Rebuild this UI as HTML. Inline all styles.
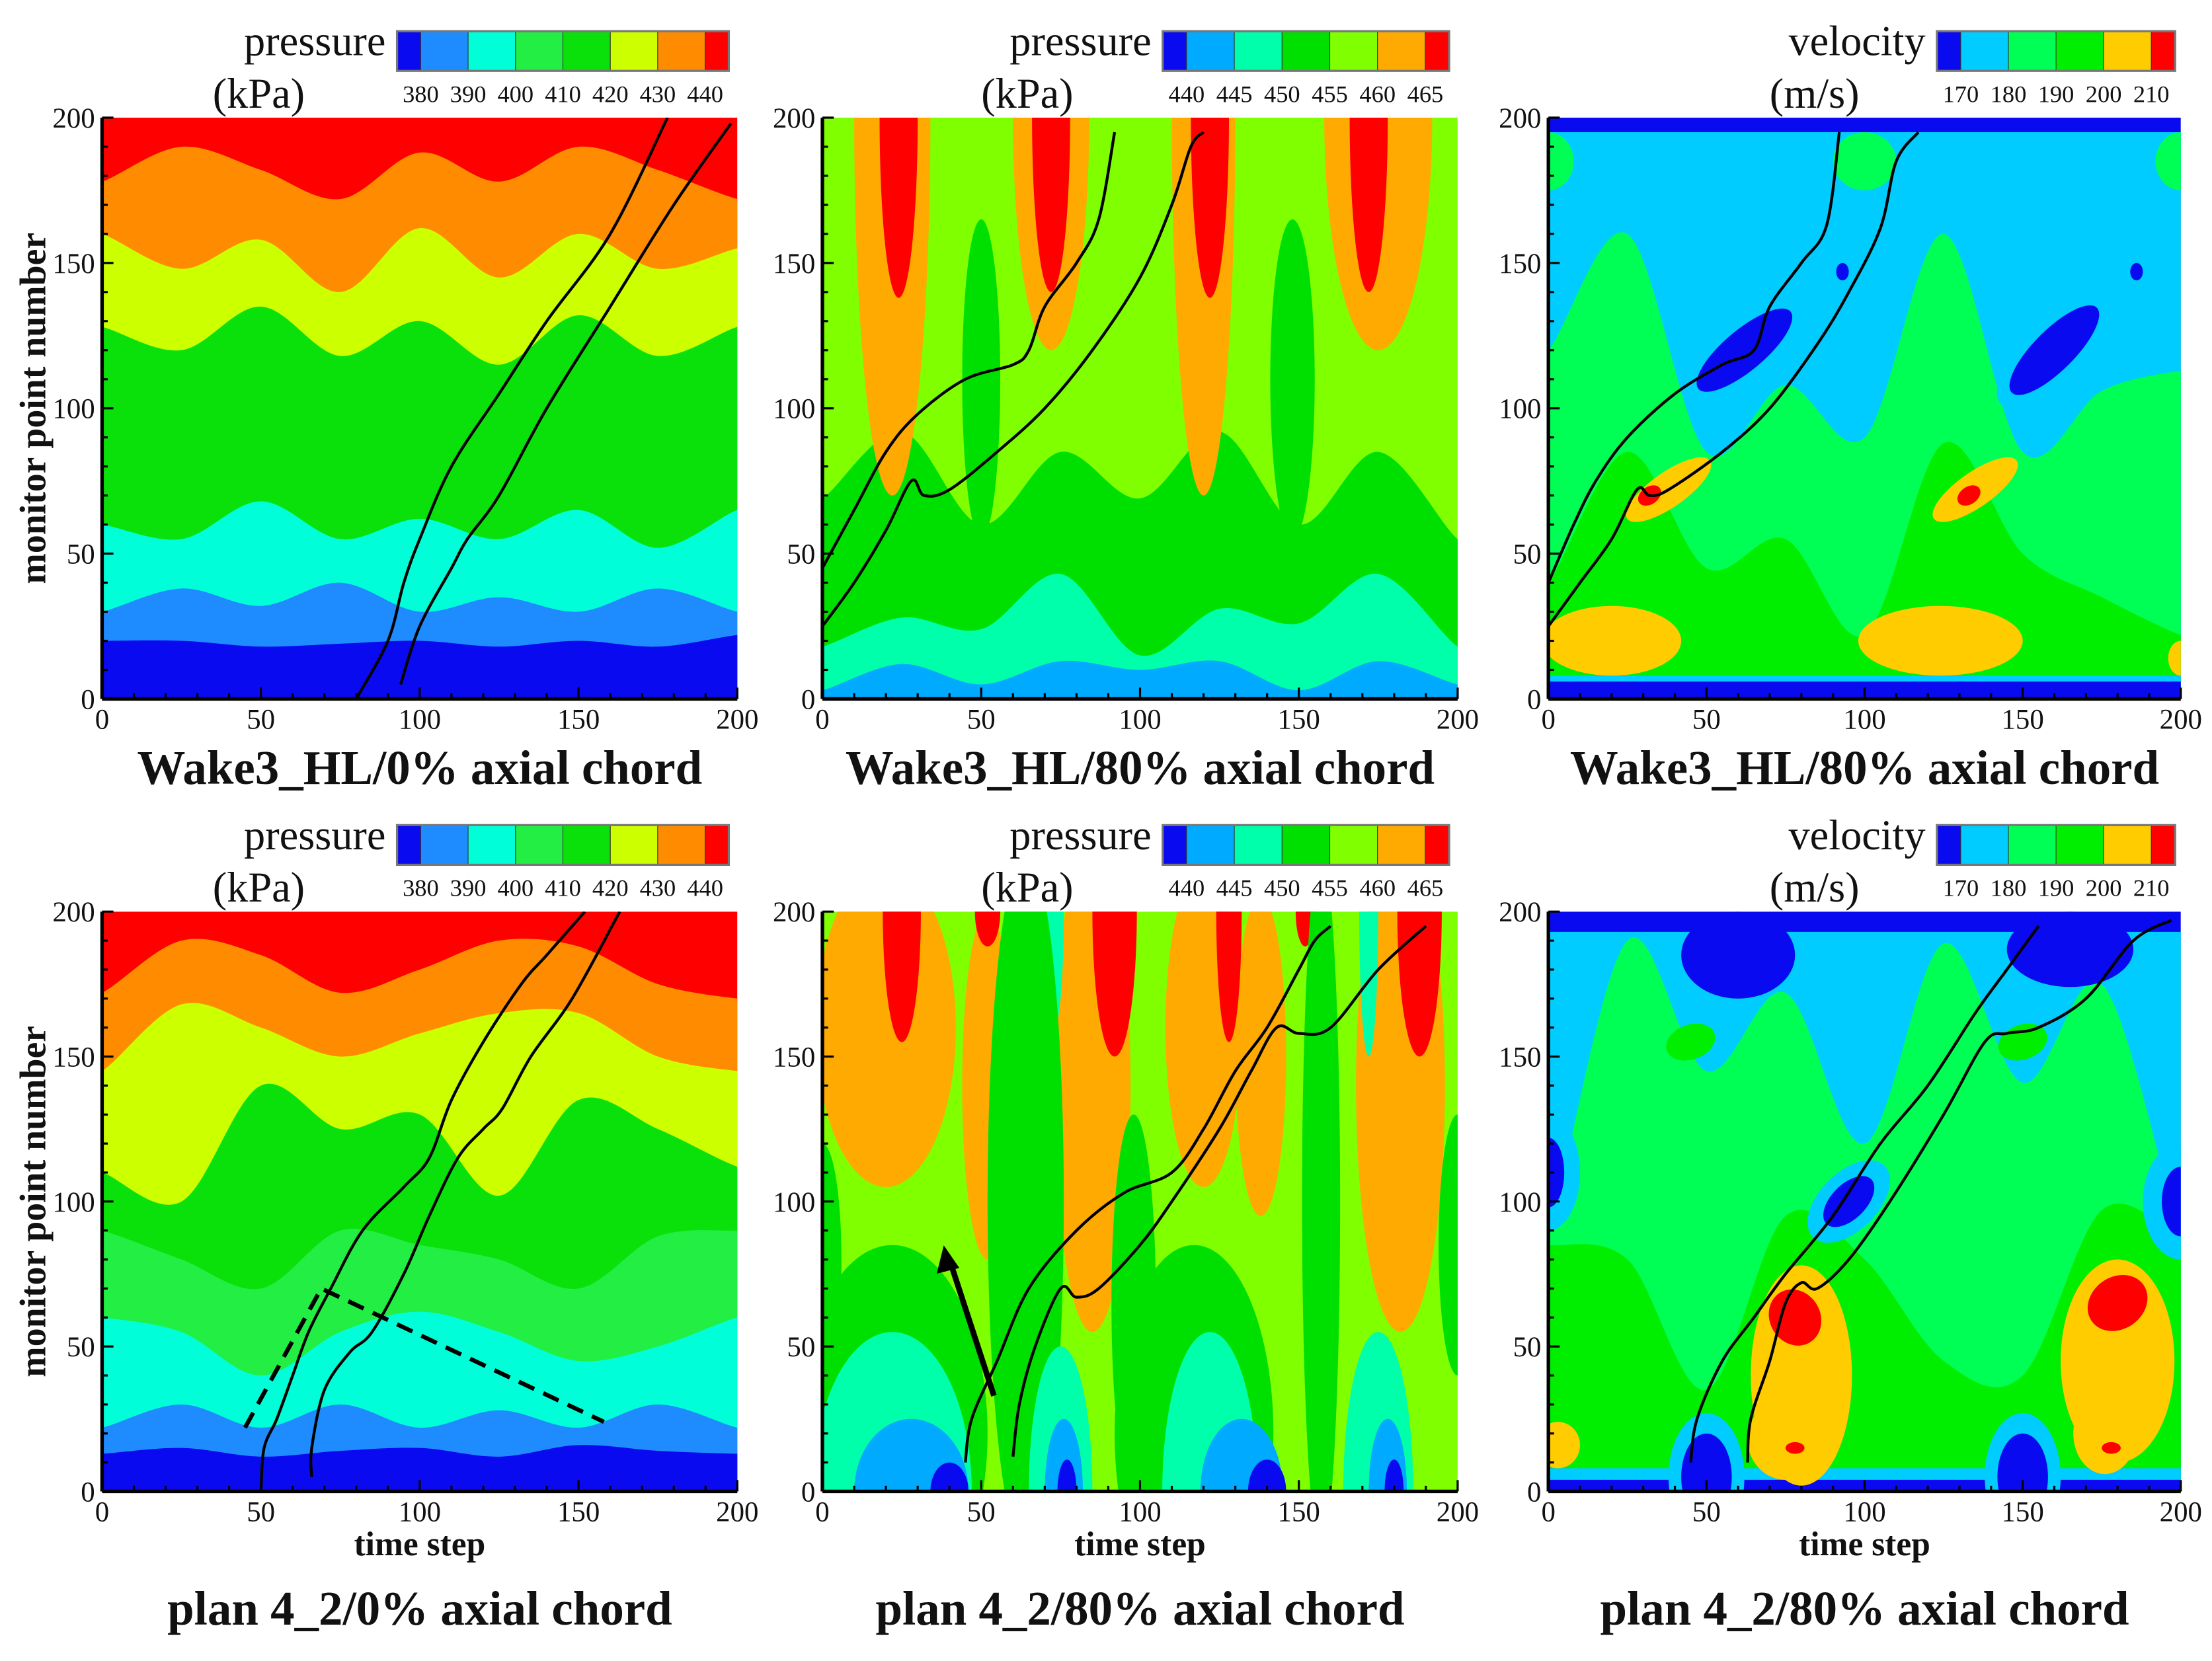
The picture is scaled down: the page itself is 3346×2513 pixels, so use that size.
<!DOCTYPE html>
<html><head><meta charset="utf-8"><style>
html,body{margin:0;padding:0;background:#fff;}
svg{display:block;}
text{font-family:"Liberation Serif",serif;fill:#111;}
</style></head><body>
<svg id="fig" width="3346" height="2513" viewBox="0 0 1560 1171.6" preserveAspectRatio="none" xmlns="http://www.w3.org/2000/svg"></svg>
<script>
// ---------- data ----------
const xSamples = [0,25,50,75,100,125,150,175,200];
const axisTicks = [0,50,100,150,200];
const pressureLowLabels = ["380","390","400","410","420","430","440"];
const pressureHighLabels = ["440","445","450","455","460","465"];
const velocityLabels = ["170","180","190","200","210"];
const pressurePalette = ["#0a0af0","#1e8cff","#00ffd8","#22ee44","#0ae00a","#ccff00","#ff8c00","#ff0000"];
const pressure2Palette = ["#0a0af0","#00aaff","#00ffaa","#00e000","#22dd00","#7fff00","#ffaa00","#ff0000"];
const pressure2BarPalette = ["#0a0af0","#00aaff","#00ffaa","#00e000","#7fff00","#ffaa00","#ff0000"];
const velocityPalette = ["#0a0af0","#00ccff","#00ff55","#00ee00","#ffcc00","#ff0000"];

// band boundaries (bottom->top), monitor units at xSamples
const p1Bounds = [
 [20,20,18,19,20,18,20,18,22],
 [30,38,32,40,30,35,30,38,30],
 [60,55,68,55,62,55,65,52,65],
 [128,120,135,118,130,115,132,118,128],
 [160,148,158,140,162,145,160,148,155],
 [178,190,182,172,188,178,190,182,172]];
const p1Colors = [0,1,2,4,5,6,7];
const p4Bounds = [
 [13,15,12,14,15,12,16,14,13],
 [22,30,22,30,22,28,22,30,22],
 [60,55,40,55,62,55,45,50,60],
 [90,80,70,90,85,80,70,88,90],
 [110,100,140,125,130,102,135,125,112],
 [145,168,160,150,158,165,165,150,145],
 [172,190,185,172,180,190,188,175,170]];
const p4Colors = [0,1,2,3,4,5,6,7];
const p2Bounds = [
 [3,12,5,13,10,13,3,13,5],
 [18,28,24,43,15,31,26,43,18],
 [69,92,60,85,69,92,60,85,55]];
const p2Colors = [1,2,3,5];
const p5Bounds = [];
const p5Colors = [5];
const p3Bounds = [
 [6,6,6,6,6,6,6,6,6],
 [8,8,8,8,8,8,8,8,8],
 [40,85,45,55,22,88,50,35,22],
 [120,160,85,108,90,160,85,106,113],
 [195,195,195,195,195,195,195,195,195]];
const p3Colors = [0,1,3,2,1,0];
const p6Bounds = [
 [4,4,4,4,4,4,4,4,4],
 [8,8,8,8,8,8,8,8,8],
 [85,80,35,95,80,45,40,97,88],
 [90,190,145,172,120,189,141,175,90],
 [193,193,193,193,193,193,193,193,193]];
const p6Colors = [0,1,3,2,1,0];

// blobs: [t, monitor, rt, rm, angle, colorIdx]
const p2Blobs = [
 [22,200,12,130,0,6],[72,200,12,80,0,6],[120,200,10,130,0,6],[175,200,17,80,0,6],
 [24,200,6,62,0,7],[72,200,6,60,0,7],[122,200,6,62,0,7],[172,200,6,60,0,7],
 [50,110,6,55,0,3],[148,110,7,55,0,3]];
const p5Blobs = [
 [20,160,22,55,0,6],[52,140,8,60,0,6],[85,140,12,85,0,6],[120,160,12,55,0,6],[138,150,8,55,0,6],[182,140,14,85,0,6],
 [25,200,6,45,0,7],[52,200,4,12,0,7],[92,200,7,50,0,7],[128,200,4,45,0,7],[152,200,3,12,0,7],[188,200,7,50,0,7],
 [73,200,3,40,0,2],[172,200,3,50,0,2],
 [64,100,12,120,0,3],[98,65,7,65,0,3],[157,100,6,120,0,3],[200,85,6,45,0,3],[0,80,6,40,0,3],[22,20,30,65,0,3],[117,20,25,65,0,3],
 [22,0,25,55,0,2],[75,0,10,50,0,2],[122,0,15,55,0,2],[175,0,11,55,0,2],
 [28,0,18,25,0,1],[76,0,6,25,0,1],[132,0,13,25,0,1],[178,0,6,25,0,1],
 [40,0,6,10,0,0],[77,0,3,11,0,0],[140,0,6,11,0,0],[180,0,3,11,0,0]];
const p3Blobs = [
 [0,185,8,10,0,2],[100,185,10,10,0,2],[200,185,8,10,0,2],
 [20,20,22,12,0,4],[124,20,26,12,0,4],[200,14,4,6,0,4],
 [38,72,16,6,-35,4],[32,70,4,3,-35,5],[135,72,16,6,-35,4],[133,70,4,3,-35,5],
 [62,120,24,10,-40,1],[160,120,24,10,-45,1],
 [62,120,19,7,-40,0],[160,120,19,7,-45,0],[93,147,2,3,0,0],[186,147,2,3,0,0]];
const p6Blobs = [
 [0,110,10,20,0,1],[95,100,16,10,-45,1],[200,100,12,20,0,1],
 [0,110,5,12,0,0],[95,100,10,6,-45,0],[200,100,6,12,0,0],
 [60,185,18,15,0,0],[165,187,20,13,0,0],
 [45,155,8,6,-20,3],[150,155,8,6,-20,3],
 [80,40,16,38,0,4],[75,18,12,14,0,4],[180,45,18,35,0,4],[176,20,10,14,0,4],[3,16,7,8,0,4],
 [78,60,8,10,-30,5],[180,65,10,9,-35,5],[78,15,3,2,0,5],[178,15,3,2,0,5],
 [50,5,12,22,0,1],[150,5,12,22,0,1],[50,5,8,15,0,0],[150,5,8,15,0,0]];

// wake curves [t, monitor]
const p1CurveA = [[80,0],[90,20],[95,40],[100,55],[110,80],[125,105],[140,130],[160,160],[178,200]];
const p1CurveB = [[94,5],[100,25],[110,45],[115,55],[125,70],[140,100],[160,135],[180,170],[198,198]];
const p2CurveA = [[0,45],[10,65],[20,85],[30,98],[45,110],[60,115],[65,120],[70,135],[80,150],[87,165],[92,195]];
const p2CurveB = [[0,25],[10,40],[20,58],[28,75],[32,70],[40,72],[55,85],[70,100],[85,120],[100,145],[110,170],[116,190],[120,195]];
const p3CurveA = [[0,40],[8,60],[15,75],[25,90],[40,105],[55,115],[65,120],[70,135],[80,150],[88,163],[92,195]];
const p3CurveB = [[0,25],[10,40],[20,55],[28,72],[32,70],[38,72],[55,85],[70,100],[85,122],[95,140],[105,162],[110,185],[117,195]];
const p4CurveA = [[50,0],[51,15],[55,25],[60,40],[65,55],[72,70],[82,90],[95,105],[103,115],[110,135],[120,155],[132,175],[140,185],[152,200]];
const p4CurveB = [[66,5],[66,15],[70,35],[78,48],[85,55],[95,75],[103,95],[112,115],[120,125],[126,132],[135,150],[148,170],[163,200]];
const p4Dashed = [[45,22],[69,70],[158,24]];
const p5CurveA = [[45,10],[47,25],[55,45],[65,70],[80,90],[95,103],[110,110],[120,125],[130,145],[140,160],[150,180],[155,190],[160,195]];
const p5CurveB = [[60,12],[62,30],[67,50],[75,70],[80,67],[87,70],[100,85],[110,100],[125,125],[135,145],[143,160],[150,158],[160,160],[175,180],[190,195]];
const p6CurveA = [[45,10],[47,25],[55,45],[65,60],[75,75],[90,95],[105,120],[120,140],[135,165],[145,180],[155,195]];
const p6CurveB = [[63,10],[64,25],[70,45],[75,65],[80,72],[85,70],[95,80],[108,100],[125,130],[138,155],[145,158],[155,160],[170,170],[185,190],[197,197]];

// ---------- rendering ----------
const NS="http://www.w3.org/2000/svg";
const svg=document.getElementById('fig');
function mk(tag,attrs,parent){const e=document.createElementNS(NS,tag);for(const k in attrs)e.setAttribute(k,attrs[k]);(parent||svg).appendChild(e);return e;}
function smooth(pts){
  let d=`M${pts[0][0]},${pts[0][1]}`;
  for(let i=0;i<pts.length-1;i++){
    const p0=pts[Math.max(0,i-1)],p1=pts[i],p2=pts[i+1],p3=pts[Math.min(pts.length-1,i+2)];
    const c1=[p1[0]+(p2[0]-p0[0])/6,p1[1]+(p2[1]-p0[1])/6];
    const c2=[p2[0]-(p3[0]-p1[0])/6,p2[1]-(p3[1]-p1[1])/6];
    d+=` C${c1[0]},${c1[1]} ${c2[0]},${c2[1]} ${p2[0]},${p2[1]}`;
  }
  return d;
}
function panel(cfg){
  const {x0,x1,y0,y1}=cfg;
  const sx=t=>x0+(x1-x0)*t/200, sy=m=>y1-(y1-y0)*m/200;
  const g=mk('g',{});
  
  
  const clipId='c'+cfg.name;
  const cp=mk('clipPath',{id:clipId},g);mk('rect',{x:x0,y:y0,width:x1-x0,height:y1-y0},cp);
  const area=mk('g',{'clip-path':`url(#${clipId})`},g);
  const pal=cfg.palette, cols=cfg.colors, n=cfg.bounds.length;
  const bg=mk('rect',{x:x0,y:y0,width:x1-x0,height:y1-y0,fill:pal[cols[n]]},area);
  
  
  for(let k=n-1;k>=0;k--){
    const pts=xSamples.map((t,i)=>[sx(t),sy(cfg.bounds[k][i])]);
    const ext=[[x0-20,pts[0][1]],...pts,[x1+20,pts[pts.length-1][1]]];
    const p=mk('path',{d:smooth(ext)+` L${x1+20},${y1+5} L${x0-20},${y1+5} Z`,fill:pal[cols[k]]},area);
    
    
  }
  (cfg.blobs||[]).forEach(b=>{
    const e=mk('ellipse',{cx:sx(b[0]),cy:sy(b[1]),rx:(x1-x0)*b[2]/200,ry:(y1-y0)*b[3]/200,fill:pal[b[5]],transform:`rotate(${b[4]} ${sx(b[0])} ${sy(b[1])})`},area);
    
    
  });
  cfg.curves.forEach(c=>{
    const p=mk('path',{d:smooth(c.map(q=>[sx(q[0]),sy(q[1])])),fill:'none',stroke:'#000','stroke-width':2},area);
    
    
  });
  if(cfg.dashed){
    const p=mk('polyline',{points:cfg.dashed.map(q=>sx(q[0])+','+sy(q[1])).join(' '),fill:'none',stroke:'#000','stroke-width':3,'stroke-dasharray':'12 7'},area);
    
    
  }
  if(cfg.arrow){
    const a=cfg.arrow;
    const ln=mk('line',{x1:sx(a[0]),y1:sy(a[1]),x2:sx(a[2]),y2:sy(a[3]),stroke:'#000','stroke-width':4},area);
    
    
    const hx=sx(a[2]),hy=sy(a[3]);
    mk('polygon',{points:`${hx-4},${hy-10} ${hx-9},${hy+10} ${hx+7},${hy+6}`,fill:'#000'},area);
  }
  // frame + ticks
  mk('line',{x1:x0,y1:y1,x2:x1,y2:y1,stroke:'#000','stroke-width':2.5},g);
  mk('line',{x1:x0,y1:y0,x2:x0,y2:y1,stroke:'#000','stroke-width':2.5},g);
  for(let v=0;v<=200;v+=10){
    const L=v%50===0?8:4;
    mk('line',{x1:sx(v),y1:y1,x2:sx(v),y2:y1-L,stroke:'#000','stroke-width':1.5},g);
    mk('line',{x1:x0,y1:sy(v),x2:x0+L,y2:sy(v),stroke:'#000','stroke-width':1.5},g);
  }
  axisTicks.forEach(v=>{
    const tx=mk('text',{x:sx(v),y:y1+21,'font-size':20,'text-anchor':'middle'},g);tx.textContent=v;
    
    const ty=mk('text',{x:x0-5,y:sy(v)+7,'font-size':20,'text-anchor':'end'},g);ty.textContent=v;
    
  });
  // colorbar
  const cb=cfg.cbar, lb=cfg.cbarLabels, segs=lb.length+1;
  const cg=mk('g',{},g);
  
  
  const w=(cb.x1-cb.x0)/(segs-1);
  const cpal=cfg.cbarPalette;
  for(let i=0;i<cpal.length;i++){
    let a,b;
    if(i===0){a=cb.x0;b=cb.x0+w/2;}else if(i===cpal.length-1){a=cb.x1-w/2;b=cb.x1;}else{a=cb.x0+w/2+(i-1)*w;b=a+w;}
    mk('rect',{x:a,y:cb.y,width:b-a,height:28,fill:cpal[i],stroke:'#333','stroke-width':0.5},cg);
  }
  mk('rect',{x:cb.x0,y:cb.y,width:cb.x1-cb.x0,height:28,fill:'none',stroke:'#777','stroke-width':1.5},cg);
  lb.forEach((s,i)=>{const t=mk('text',{x:cb.x0+w/2+i*w,y:cb.y+50,'font-size':17,'text-anchor':'middle'},cg);t.textContent=s;});
  const t1=mk('text',{x:cb.x0-8,y:cb.y+17,'font-size':30,'text-anchor':'end'},cg);t1.textContent=cfg.qty;
  
  const t2=mk('text',{x:cfg.unitX,y:cb.y+54,'font-size':30},cg);t2.textContent=cfg.unit;
  
  // title
  const tt=mk('text',{x:(x0+x1)/2,y:cfg.titleY,'font-size':34,'font-weight':'bold','text-anchor':'middle'},g);tt.textContent=cfg.title;
  
  if(cfg.xlabel){const xl=mk('text',{x:(x0+x1)/2,y:y1+45,'font-size':24,'font-weight':'bold','text-anchor':'middle'},g);xl.textContent='time step';
    }
  if(cfg.ylabel){const cy=(y0+y1)/2;const yl=mk('text',{x:24,y:cy,'font-size':26,'font-weight':'bold','text-anchor':'middle',transform:`rotate(-90 24 ${cy})`,dy:8},g);yl.textContent='monitor point number';
    }
}
const cols=[[72,520],[580,1028],[1092,1538]];
const rows=[[83,493,22,553],[643,1052,582,1146]];
const specs=[
 {name:'panel-wake3-0',c:0,r:0,bounds:p1Bounds,colors:p1Colors,palette:pressurePalette,curves:[p1CurveA,p1CurveB],qty:'pressure',unit:'(kPa)',lab:pressureLowLabels,cp:pressurePalette,title:'Wake3_HL/0% axial chord',ylabel:true},
 {name:'panel-wake3-80-p',c:1,r:0,bounds:p2Bounds,colors:p2Colors,palette:pressure2Palette,blobs:p2Blobs,curves:[p2CurveA,p2CurveB],qty:'pressure',unit:'(kPa)',lab:pressureHighLabels,cp:pressure2BarPalette,title:'Wake3_HL/80% axial chord'},
 {name:'panel-wake3-80-v',c:2,r:0,bounds:p3Bounds,colors:p3Colors,palette:velocityPalette,blobs:p3Blobs,curves:[p3CurveA,p3CurveB],qty:'velocity',unit:'(m/s)',lab:velocityLabels,cp:velocityPalette,title:'Wake3_HL/80% axial chord'},
 {name:'panel-plan42-0',c:0,r:1,bounds:p4Bounds,colors:p4Colors,palette:pressurePalette,curves:[p4CurveA,p4CurveB],dashed:p4Dashed,qty:'pressure',unit:'(kPa)',lab:pressureLowLabels,cp:pressurePalette,title:'plan 4_2/0% axial chord',ylabel:true,xlabel:true},
 {name:'panel-plan42-80-p',c:1,r:1,bounds:p5Bounds,colors:p5Colors,palette:pressure2Palette,blobs:p5Blobs,curves:[p5CurveA,p5CurveB],arrow:[54,33,40,80],qty:'pressure',unit:'(kPa)',lab:pressureHighLabels,cp:pressure2BarPalette,title:'plan 4_2/80% axial chord',xlabel:true},
 {name:'panel-plan42-80-v',c:2,r:1,bounds:p6Bounds,colors:p6Colors,palette:velocityPalette,blobs:p6Blobs,curves:[p6CurveA,p6CurveB],qty:'velocity',unit:'(m/s)',lab:velocityLabels,cp:velocityPalette,title:'plan 4_2/80% axial chord',xlabel:true}];
const cbX=[[280,514,150],[820,1022,692],[1366,1534,1248]];
specs.forEach(s=>{
  const [x0,x1]=cols[s.c],[y0,y1,cby,ty]=rows[s.r];
  panel({name:s.name,x0,x1,y0,y1,bounds:s.bounds,colors:s.colors,palette:s.palette,blobs:s.blobs,curves:s.curves,dashed:s.dashed,arrow:s.arrow,
    cbar:{x0:cbX[s.c][0],x1:cbX[s.c][1],y:cby},cbarLabels:s.lab,cbarPalette:s.cp,qty:s.qty,unit:s.unit,unitX:cbX[s.c][2],
    title:s.title,titleY:ty,xlabel:s.xlabel,ylabel:s.ylabel});
});
</script>
</body></html>
